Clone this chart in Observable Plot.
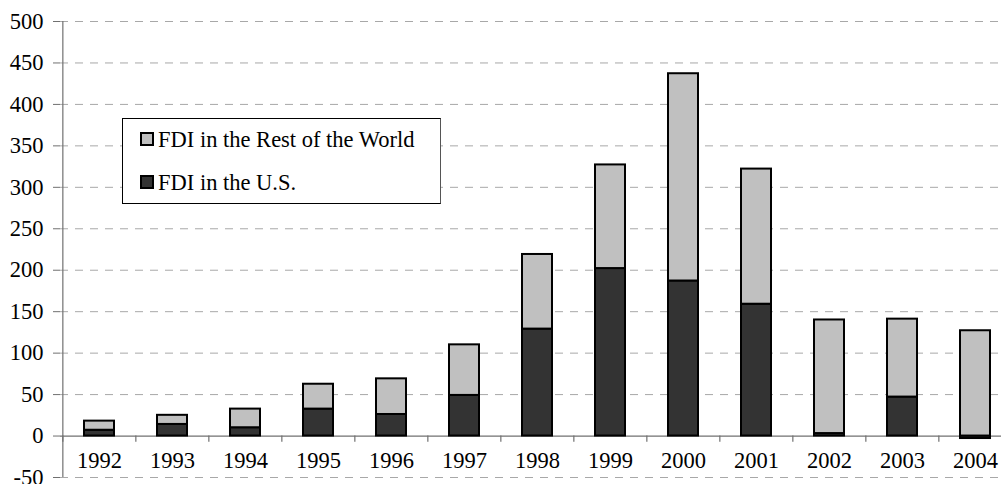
<!DOCTYPE html>
<html>
<head>
<meta charset="utf-8">
<script src="https://cdn.jsdelivr.net/npm/d3@7"></script>
<script src="https://cdn.jsdelivr.net/npm/@observablehq/plot@0.6"></script>
<style>
  html, body { margin: 0; padding: 0; background: #fff; overflow: hidden; }
  #wrap { position: relative; width: 1001px; height: 484px; }
  #legend {
    position: absolute; left: 122px; top: 118px; width: 319px; height: 86px;
    border: 1px solid #000; border-right-color: #555; background: #fff; box-sizing: border-box;
    font-family: "Liberation Serif", serif; font-size: 22.5px; color: #000;
  }
  .item { position: absolute; left: 17px; height: 26px; line-height: 26px; display: flex; align-items: center; white-space: nowrap; }
  .sw { width: 10px; height: 10px; border: 2px solid #000; margin-right: 4px; margin-top: -2px; }
</style>
</head>
<body>
<div id="wrap">
  <div id="chart"></div>
  <div id="legend"></div>
</div>
<script>
const years = ["1992","1993","1994","1995","1996","1997","1998","1999","2000","2001","2002","2003","2004"];
const usFDI = [7, 14, 10, 32.5, 26, 49, 129, 202, 187, 159, 3, 47, -3];
const rowFDI = [11, 11, 22.5, 30, 43, 61, 90, 125, 250, 163, 137, 94, 127];
const seriesNames = ["FDI in the U.S.", "FDI in the Rest of the World"];
const seriesColors = ["#333333", "#c0c0c0"];
const yTicks = d3.range(-50, 501, 50);

const data = [];
years.forEach((y, i) => {
  data.push({year: y, series: seriesNames[0], value: usFDI[i]});
  data.push({year: y, series: seriesNames[1], value: rowFDI[i]});
});

const W = 1001, H = 484, left = 60, right = 1013;
const bw = (right - left) / years.length;
const font = "Liberation Serif, serif";

const chart = Plot.plot({
  width: W, height: H,
  marginTop: 21, marginBottom: 7, marginLeft: left, marginRight: W - right,
  style: {fontFamily: font, fontSize: "22.5px", color: "#000", background: "#fff", overflow: "visible"},
  x: {domain: years, range: [left, right], paddingInner: 0.59, paddingOuter: 0.295, axis: null},
  y: {domain: [-50, 500], axis: null, label: null},
  color: {domain: seriesNames, range: seriesColors},
  marks: [
    Plot.gridY(yTicks.filter(v => v !== 0), {stroke: "#a8a8a8", strokeOpacity: 1, strokeDasharray: "8,7"}),
    Plot.ruleY([0], {stroke: "#707070", strokeWidth: 1.2}),
    Plot.ruleX(years, {x: d => d, y1: 0, y2: -7.5, dx: -bw / 2, stroke: "#707070", strokeWidth: 1.2}),
    Plot.ruleX([years[0]], {x: d => d, dx: -bw / 2, stroke: "#707070", strokeWidth: 1.2}),
    Plot.axisY({ticks: yTicks, tickSize: 7, tickPadding: 10, tickFormat: d => String(d), stroke: "#707070", fontSize: 22.5, fill: "#000", label: null}),
    Plot.barY(data, Plot.stackY({x: "year", y: "value", fill: "series", z: "series", order: seriesNames, stroke: "#000", strokeWidth: 2})),
    Plot.text(years, {x: d => d, y: -30, text: d => d, fontSize: 22.5, fill: "#000"})
  ]
});
document.getElementById("chart").appendChild(chart);

// legend
const legend = document.getElementById("legend");
const rows = [[seriesNames[1], seriesColors[1], 8], [seriesNames[0], seriesColors[0], 51]];
rows.forEach(([name, color, top]) => {
  const it = document.createElement("div");
  it.className = "item";
  it.style.top = top + "px";
  const sw = document.createElement("div");
  sw.className = "sw";
  sw.style.background = color;
  const t = document.createElement("span");
  t.textContent = name;
  it.appendChild(sw); it.appendChild(t);
  legend.appendChild(it);
});
</script>
</body>
</html>
